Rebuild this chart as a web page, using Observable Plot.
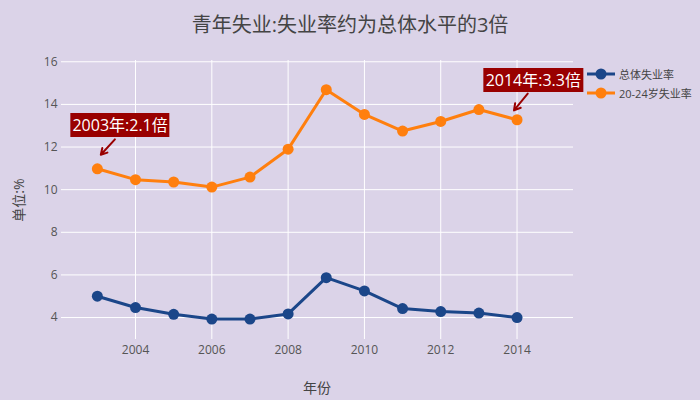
<!DOCTYPE html>
<html><head><meta charset="utf-8">
<script src="https://cdn.jsdelivr.net/npm/d3@7"></script>
<script src="https://cdn.jsdelivr.net/npm/@observablehq/plot@0.6"></script>
<style>
html,body{margin:0;padding:0;background:#dbd3e8;}
#wrap{position:relative;width:700px;height:400px;background:#dbd3e8;font-family:"Open Sans","Noto Sans CJK SC",sans-serif;color:#444;overflow:hidden;}
#title{position:absolute;left:0;width:700px;top:9px;text-align:center;font-size:20px;color:#444;}
#legend{position:absolute;left:586px;top:64px;font-size:11px;color:#444;white-space:nowrap;width:114px;}
.li{display:flex;align-items:center;height:19px;white-space:nowrap;}
.li svg{margin-right:3px;flex:none;}
.ann{position:absolute;background:#990000;color:#fff;font-size:16px;padding:1px 2px;white-space:nowrap;transform:translate(-50%,-50%);line-height:22px;}
.axt{position:absolute;font-size:14px;color:#444;}
</style></head>
<body><div id="wrap"></div>
<script>
const years = [2003,2004,2005,2006,2007,2008,2009,2010,2011,2012,2013,2014];
const overallRate = [5.0,4.47,4.15,3.93,3.93,4.17,5.87,5.25,4.42,4.28,4.21,4.0];
const youthRate = [10.98,10.47,10.36,10.12,10.59,11.9,14.69,13.53,12.75,13.2,13.76,13.28];
const seriesNames = ["总体失业率","20-24岁失业率"];
const seriesColors = ["#1b4689","#ff7f0e"];
const xTicks = [2004,2006,2008,2010,2012,2014];
const yTicks = [4,6,8,10,12,14,16];
const annTexts = ["2003年:2.1倍","2014年:3.3倍"];
const annTextX = [2003.61,2014.44];
const annTextY = [13.01,15.12];
const annFromX = [2003.46,2014.28];
const annFromY = [12.36,14.51];
const annToX = [2003.09,2013.92];
const annToY = [11.64,13.72];
const titleText = "青年失业:失业率约为总体水平的3倍";
const xTitle = "年份";
const yTitle = "单位:%";

const data = [];
years.forEach((y,i)=>{
  data.push({year:y, value:overallRate[i], s:seriesNames[0]});
});
years.forEach((y,i)=>{
  data.push({year:y, value:youthRate[i], s:seriesNames[1]});
});
const arrows = annTexts.map((t,i)=>({x1:annFromX[i],y1:annFromY[i],x2:annToX[i],y2:annToY[i]}));

const wrap = document.getElementById("wrap");
const plot = Plot.plot({
  width:700, height:400,
  marginLeft:61, marginRight:127, marginTop:60, marginBottom:61,
  style:{background:"transparent", fontFamily:"'Open Sans','Noto Sans CJK SC',sans-serif", fontSize:"12px", color:"#555"},
  x:{domain:[2002.06,2015.48]},
  y:{domain:[2.97,16.06]},
  color:{domain:seriesNames, range:seriesColors},
  marks:[
    Plot.gridX(xTicks,{stroke:"#fff", strokeOpacity:1, strokeWidth:1}),
    Plot.gridY(yTicks,{stroke:"#fff", strokeOpacity:1, strokeWidth:1}),
    Plot.axisX({ticks:xTicks, tickFormat:d=>String(d), tickSize:0, tickPadding:6, label:null, fill:"#555"}),
    Plot.axisY({ticks:yTicks, tickSize:0, tickPadding:4, label:null, fill:"#555"}),
    Plot.line(data,{x:"year", y:"value", stroke:"s", z:"s", strokeWidth:3}),
    Plot.dot(data,{x:"year", y:"value", fill:"s", r:5.5}),
    Plot.arrow(arrows,{x1:"x1",y1:"y1",x2:"x2",y2:"y2", stroke:"#990000", strokeWidth:2, headLength:9, bend:0})
  ]
});
plot.style.position="absolute"; plot.style.left="0"; plot.style.top="0";
wrap.appendChild(plot);

const sx = plot.scale("x"), sy = plot.scale("y");

const title = document.createElement("div");
title.id="title"; title.textContent=titleText; wrap.appendChild(title);

annTexts.forEach((t,i)=>{
  const d=document.createElement("div");
  d.className="ann"; d.textContent=t;
  d.style.left=sx.apply(annTextX[i])+"px";
  d.style.top=sy.apply(annTextY[i])+"px";
  wrap.appendChild(d);
});

const xt=document.createElement("div");
xt.className="axt"; xt.textContent=xTitle;
xt.style.left=(317-14)+"px"; xt.style.top="377px";
wrap.appendChild(xt);
const yt=document.createElement("div");
yt.className="axt"; yt.textContent=yTitle;
yt.style.left="18px"; yt.style.top="200px";
yt.style.transform="translate(-50%,-50%) rotate(-90deg)";
yt.style.whiteSpace="nowrap";
wrap.appendChild(yt);

const leg=document.createElement("div"); leg.id="legend";
seriesNames.forEach((n,i)=>{
  const row=document.createElement("div"); row.className="li";
  row.innerHTML=`<svg width="30" height="14"><line x1="1" x2="29" y1="7" y2="7" stroke="${seriesColors[i]}" stroke-width="3"/><circle cx="15" cy="7" r="5.5" fill="${seriesColors[i]}"/></svg><span>${n}</span>`;
  leg.appendChild(row);
});
wrap.appendChild(leg);
</script></body></html>
